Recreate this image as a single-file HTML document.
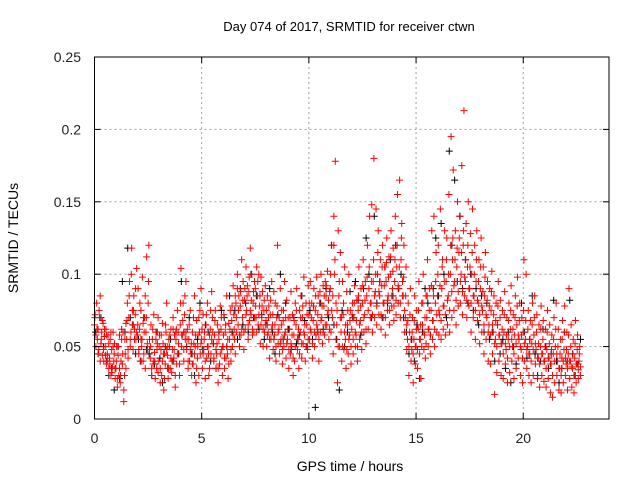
<!DOCTYPE html>
<html><head><meta charset="utf-8"><style>
html,body{margin:0;padding:0;background:#fff;}
svg{display:block;font-family:"Liberation Sans",sans-serif;}
</style></head><body>
<svg id="chart" width="640" height="480" viewBox="0 0 640 480">
<g id="grid"></g>
<g id="marks"></g>
<g id="axes"></g>
<text x="349" y="31" font-size="13" text-anchor="middle">Day 074 of 2017, SRMTID for receiver ctwn</text>
<text x="350" y="471" font-size="14" text-anchor="middle">GPS time / hours</text>
<text x="0" y="0" font-size="14" text-anchor="middle" transform="translate(18,238) rotate(-90)">SRMTID / TECUs</text>
</svg>
<script>
const xTicks=[0,5,10,15,20];
const yTicks=[0,0.05,0.1,0.15,0.2,0.25];
const yTickLabels=["0","0.05","0.1","0.15","0.2","0.25"];
// red series: values (x0.001 TECU), 3 samples per 0.1 h step
const redMilli=[
65,72,58,80,55,62,48,70,85,52,60,44,66,40,57,50,62,38,45,58,35,42,55,30,48,36,60,40,52,28,
35,50,22,44,30,58,25,40,55,38,60,12,30,45,66,55,80,42,70,95,50,60,118,75,48,85,62,72,55,104,
58,90,45,62,40,75,50,98,66,45,70,35,60,112,52,80,120,48,42,65,30,55,38,72,46,28,60,35,52,70,
40,58,25,48,30,66,52,20,45,38,60,80,44,28,55,50,35,62,32,48,70,42,58,22,55,38,75,60,45,30,
65,104,50,58,80,40,72,55,95,48,62,35,55,40,75,45,30,60,38,52,85,50,25,68,42,58,30,60,45,90,
55,35,72,48,60,28,65,42,80,50,30,58,62,45,88,70,52,40,58,75,35,45,65,25,55,38,78,62,48,30,
50,72,35,60,42,85,45,28,66,55,75,40,68,50,92,72,55,45,80,60,100,65,85,50,78,58,110,70,95,48,
82,62,105,75,92,55,88,68,118,72,100,58,80,60,95,90,70,105,85,65,100,78,52,98,70,88,50,75,60,92,
68,50,85,60,78,42,72,55,95,65,48,88,58,80,40,70,120,52,62,45,90,55,75,38,68,50,95,60,42,82,
55,70,35,62,45,88,50,72,30,58,40,80,65,90,48,55,35,75,60,85,42,70,52,98,58,40,80,65,48,92,
72,55,95,60,80,42,68,90,50,75,58,98,62,85,40,80,60,100,70,52,92,78,58,95,85,65,102,75,55,88,
90,60,120,70,45,140,100,178,55,65,25,130,85,50,115,60,40,95,72,48,105,55,35,88,65,45,100,58,75,38,
62,80,45,70,92,50,58,82,40,75,105,55,68,90,48,80,110,60,72,95,52,85,120,62,90,140,70,80,148,60,
95,180,70,88,145,65,100,130,72,85,110,62,92,120,70,80,105,58,95,125,75,85,112,65,100,130,78,90,118,68,
95,140,72,105,155,80,90,165,70,110,135,85,85,120,60,70,105,48,55,80,30,60,90,40,48,70,25,55,85,38,
50,75,35,62,95,45,55,28,80,65,100,48,58,42,85,70,110,50,62,90,45,75,130,55,68,140,50,80,115,60,
85,120,58,72,145,55,90,110,62,78,130,58,95,125,65,85,155,60,100,195,70,110,172,75,95,130,65,105,150,78,
115,140,80,100,175,72,120,213,85,95,135,70,105,150,78,90,128,60,100,145,70,85,120,55,95,130,68,80,110,52,
90,125,60,75,105,45,85,115,55,70,95,40,65,90,38,75,102,45,60,85,17,55,80,32,65,95,40,58,82,30,
52,75,28,60,88,38,48,70,25,55,80,32,62,92,40,50,72,28,58,85,35,65,98,42,55,80,30,48,70,25,
60,110,40,55,100,35,50,75,30,45,68,25,52,80,30,58,85,38,48,72,28,42,65,22,50,78,30,45,68,26,
40,62,22,48,75,28,42,65,18,38,58,15,45,70,25,50,80,30,40,62,20,35,55,18,42,68,25,48,78,30,
38,60,20,45,90,28,40,65,22,35,55,18,42,68,25,38,58,28,40,50,30
];
// second red pass: 2 samples per 0.1 h step
const redMilli2=[
70,50,62,45,75,40,55,68,48,62,44,58,40,52,38,60,32,50,45,35,
40,28,50,35,30,62,45,20,55,35,68,48,85,55,100,65,75,55,90,60,
65,48,80,55,55,40,60,85,70,48,95,55,50,35,62,40,40,55,48,32,
50,35,58,40,45,28,65,48,50,35,58,42,40,62,48,30,62,45,52,38,
80,58,68,48,85,60,55,40,65,48,52,38,70,45,58,35,50,70,75,52,
62,45,55,40,72,50,45,35,75,55,60,42,68,48,52,35,60,45,70,50,
58,42,65,50,55,38,62,48,78,58,62,85,70,90,75,58,88,62,82,60,
90,72,85,65,98,75,82,62,88,70,78,60,95,72,85,65,78,62,82,65,
75,58,70,55,82,62,72,55,65,50,78,60,70,52,65,48,75,58,70,52,
62,48,70,52,58,42,68,50,75,55,62,45,70,52,78,60,65,50,72,55,
80,62,70,52,78,60,85,65,72,55,88,68,78,60,85,65,92,72,82,62,
100,75,85,120,110,80,75,50,95,70,70,50,80,60,65,48,75,55,68,50,
72,55,80,60,68,50,85,65,78,60,92,70,82,62,98,75,105,80,95,72,
110,85,100,78,115,88,95,72,105,80,92,70,108,82,98,75,112,85,102,78,
110,82,120,92,105,80,125,95,98,75,85,65,68,50,72,55,60,45,68,50,
62,48,75,55,65,50,80,60,70,52,85,62,75,58,92,68,85,62,95,72,
100,75,92,68,105,78,95,72,110,82,100,75,120,88,125,92,110,82,118,88,
125,95,115,88,130,98,110,82,120,90,105,80,115,85,100,75,110,82,95,72,
105,78,88,65,98,72,82,60,78,58,88,65,72,52,68,50,78,58,70,52,
62,45,72,52,58,42,68,50,75,55,62,45,70,52,78,58,68,50,58,42,
75,52,68,48,62,45,55,40,65,48,70,52,60,42,52,38,62,45,55,40,
50,35,60,42,52,38,48,30,55,40,62,45,50,35,45,30,55,40,60,42,
48,35,58,40,50,36,45,30,52,38,48,34,45,36
];
// black series: 2 samples per 0.25 h step
const blackMilli=[
60,45,70,50,40,30,35,20,50,28,95,60,118,70,65,45,
55,40,70,48,45,30,38,60,42,25,50,35,55,40,60,45,
95,60,50,70,45,30,55,80,48,65,60,40,52,35,60,75,
70,50,85,60,75,55,90,65,80,60,100,70,85,62,72,55,
65,90,60,45,72,100,55,80,62,48,70,52,58,85,68,50,
75,55,8,60,80,62,90,70,120,65,55,20,75,50,60,88,
70,95,82,58,90,125,100,70,140,80,95,70,105,80,110,85,
120,90,100,70,60,45,55,40,65,28,60,90,80,58,90,125,
85,135,100,70,185,120,165,95,140,90,110,80,100,75,90,65,
85,60,80,55,60,40,65,45,55,35,60,25,50,38,55,80,
60,42,55,85,45,30,40,62,50,35,45,82,40,25,35,60,
40,82,45,30,38,55
];
const L=94.5,R=609,T=57,B=419,XMAX=24,YMAX=0.25;
const xs=v=>L+(R-L)*v/XMAX;
const ys=v=>B-(B-T)*v/YMAX;
const NS="http://www.w3.org/2000/svg";
const grid=document.getElementById('grid'),axes=document.getElementById('axes'),marks=document.getElementById('marks');
function mk(tag,attrs,parent){const e=document.createElementNS(NS,tag);for(const k in attrs)e.setAttribute(k,attrs[k]);parent.appendChild(e);return e;}
xTicks.forEach((t,i)=>{
  const x=xs(t);
  if(t>0){const g=mk('line',{x1:x,x2:x,y1:T,y2:B,stroke:'#a0a0a0','stroke-dasharray':'2,3'},grid);
  
  }
  const a=mk('line',{x1:x,x2:x,y1:B,y2:B-6,stroke:'#000'},axes);
  
  
  const b=mk('line',{x1:x,x2:x,y1:T,y2:T+6,stroke:'#000'},axes);
  
  
  const tx=mk('text',{x:x,y:443,'font-size':14,'text-anchor':'middle',fill:'#222'},axes);tx.textContent=String(t);
  
  
});
yTicks.forEach((t,i)=>{
  const y=ys(t);
  if(t>0&&t<YMAX){const g=mk('line',{x1:L,x2:R,y1:y,y2:y,stroke:'#a0a0a0','stroke-dasharray':'2,3'},grid);
  
  }
  const a=mk('line',{x1:L,x2:L+6,y1:y,y2:y,stroke:'#000'},axes);
  
  
  const b=mk('line',{x1:R,x2:R-6,y1:y,y2:y,stroke:'#000'},axes);
  
  
  const tx=mk('text',{x:81,y:y+5,'font-size':14,'text-anchor':'end',fill:'#222'},axes);tx.textContent=yTickLabels[i];
  
  
});
const fr=mk('rect',{x:L,y:T,width:R-L,height:B-T,fill:'none',stroke:'#000','stroke-width':1},axes);


function cross(t,v,color,name){
  const x=xs(t),y=ys(v);
  const p=mk('path',{d:`M${x-3.5},${y}h7M${x},${y-3.5}v7`,stroke:color,'stroke-width':1,fill:'none'},marks);
  
  
}
blackMilli.forEach((v,i)=>cross(Math.floor(i/2)*0.25+(i%2)*0.12+0.05,v/1000,'#000','black-point'));
redMilli2.forEach((v,i)=>cross(Math.floor(i/2)*0.1+(i%2)*0.05+0.016,v/1000,'#f00','red-point'));
redMilli.forEach((v,i)=>cross(Math.floor(i/3)*0.1+(i%3)*0.033,v/1000,'#f00','red-point'));
</script>
</body></html>
